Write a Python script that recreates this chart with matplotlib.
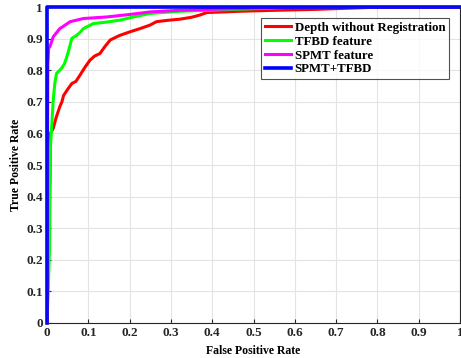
import matplotlib
matplotlib.use("Agg")
import matplotlib.pyplot as plt

plt.rcParams['font.family'] = ['Liberation Serif', 'DejaVu Serif']
plt.rcParams['font.weight'] = 'bold'

# ROC curves (FPR, TPR)
red_fpr = [0.0, 0.005, 0.007, 0.008, 0.015, 0.022, 0.031, 0.036, 0.040, 0.050, 0.060, 0.070, 0.080,
           0.092, 0.104, 0.115, 0.128, 0.140, 0.153, 0.175, 0.201, 0.225, 0.249, 0.265, 0.29,
           0.322, 0.35, 0.370, 0.387, 0.43, 0.467, 0.55, 0.65, 0.8, 1.0]
red_tpr = [0.0, 0.34, 0.45, 0.6, 0.616, 0.65, 0.685, 0.70, 0.72, 0.74, 0.758, 0.765, 0.785,
           0.81, 0.832, 0.845, 0.853, 0.875, 0.896, 0.91, 0.922, 0.932, 0.943, 0.954, 0.958,
           0.962, 0.968, 0.975, 0.983, 0.985, 0.987, 0.99, 0.993, 1.0, 1.0]

green_fpr = [0.0, 0.006, 0.008, 0.011, 0.015, 0.019, 0.023, 0.035, 0.042, 0.048, 0.054, 0.060,
             0.072, 0.080, 0.088, 0.100, 0.112, 0.140, 0.177, 0.209, 0.249, 0.322, 0.387, 0.5,
             0.6, 1.0]
green_tpr = [0.0, 0.23, 0.55, 0.616, 0.706, 0.76, 0.79, 0.806, 0.82, 0.843, 0.87, 0.901,
             0.911, 0.92, 0.932, 0.94, 0.948, 0.952, 0.959, 0.969, 0.98, 0.987, 0.99, 0.995,
             1.0, 1.0]

magenta_fpr = [0.0, 0.002, 0.004, 0.007, 0.015, 0.031, 0.056, 0.088, 0.145, 0.201, 0.25, 0.32,
               0.45, 0.6, 1.0]
magenta_tpr = [0.0, 0.82, 0.87, 0.875, 0.906, 0.932, 0.954, 0.964, 0.969, 0.977, 0.985, 0.99,
               0.995, 1.0, 1.0]

blue_fpr = [0.0, 0.0, 1.0]
blue_tpr = [0.0, 1.0, 1.0]

labels = ['Depth without Registration', 'TFBD feature', 'SPMT feature', 'SPMT+TFBD']
colors = ['#ff0000', '#00ff00', '#ff00ff', '#0000ff']

fig = plt.figure(figsize=(4.61, 3.58), dpi=100)
ax = fig.add_axes([0.102, 0.098, 0.896, 0.882])

ax.plot(red_fpr, red_tpr, color=colors[0], lw=2.2, label=labels[0])
ax.plot(green_fpr, green_tpr, color=colors[1], lw=2.2, label=labels[1])
ax.plot(magenta_fpr, magenta_tpr, color=colors[2], lw=2.2, label=labels[2])
ax.plot(blue_fpr, blue_tpr, color=colors[3], lw=2.6, label=labels[3], clip_on=False)

ax.set_xlim(0, 1)
ax.set_ylim(0, 1)
ticks = [0, 0.1, 0.2, 0.3, 0.4, 0.5, 0.6, 0.7, 0.8, 0.9, 1]
ticklabels = ['0', '0.1', '0.2', '0.3', '0.4', '0.5', '0.6', '0.7', '0.8', '0.9', '1']
ax.set_xticks(ticks)
ax.set_xticklabels(ticklabels)
ax.set_yticks(ticks)
ax.set_yticklabels(ticklabels)
ax.tick_params(direction='in', length=3, labelsize=9.5, colors='#262626', pad=3)
ax.grid(True, color='#e3e3e3', lw=0.8)
ax.set_axisbelow(True)
for s in ax.spines.values():
    s.set_color('#262626')
    s.set_linewidth(0.8)

ax.set_xlabel('False Positive Rate', fontsize=8.5, fontweight='bold', labelpad=4)
ax.set_ylabel('True Positive Rate', fontsize=8.5, fontweight='bold', labelpad=3)

leg = ax.legend(loc='upper right', bbox_to_anchor=(0.98, 0.975), frameon=True,
                fancybox=False, edgecolor='#262626', handlelength=2.0, handletextpad=0.3,
                labelspacing=0.15, borderpad=0.3, borderaxespad=0.2,
                prop={'weight': 'bold', 'size': 9.3})
leg.get_frame().set_linewidth(0.8)

fig.savefig('out.png', dpi=100)
